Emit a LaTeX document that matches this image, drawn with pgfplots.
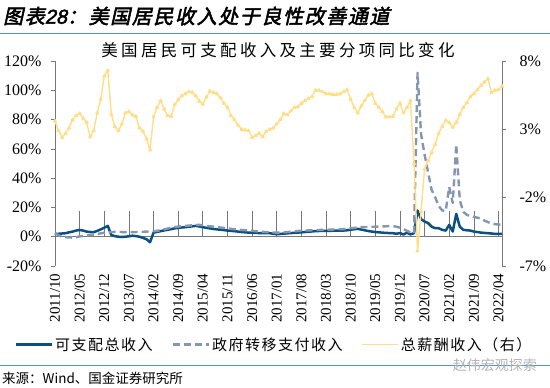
\documentclass[border=0pt]{standalone}
\usepackage{fontspec}
\setmainfont{Liberation Serif}
\newfontfamily\cjk{Noto Sans CJK SC}
\newfontfamily\cjksp{Noto Sans CJK SC}[LetterSpace=10]
\newfontfamily\cjkti{Noto Sans CJK SC}[LetterSpace=20]
\newfontfamily\headfont{Noto Sans CJK SC}[FakeSlant=0.22,FakeBold=2.5,LetterSpace=8]
\newfontfamily\headnum{Liberation Sans}[FakeSlant=0.22,FakeBold=2.5]
\usepackage{pgfplots}
\usepackage{pgfplotstable}
\pgfplotsset{compat=1.18}
\definecolor{cblue}{RGB}{12,80,130}
\definecolor{cgray}{RGB}{132,151,176}
\definecolor{cyel}{RGB}{255,222,135}
\definecolor{hdrblue}{RGB}{80,150,210}
\definecolor{axiscol}{RGB}{120,120,120}

\pgfplotstableread{
i blue gray yel
0 1.9 2.4 3.6
1 2.0 1.0 2.9
2 2.2 0.0 2.4
3 2.4 -0.3 2.7
4 3.0 -0.5 3.1
5 3.5 -0.6 3.7
6 4.2 -0.3 4.0
7 4.6 0.2 4.15
8 4.2 0.5 3.8
9 3.5 0.8 3.5
10 3.2 1.1 2.45
11 3.1 1.5 2.9
12 4.0 1.9 4.2
13 5.0 2.3 5.2
14 6.2 2.8 6.9
15 7.4 3.0 7.3
16 1.2 3.2 4.1
17 0.4 3.3 3.2
18 0.0 3.3 2.9
19 -0.2 3.2 3.4
20 0.0 3.1 4.2
21 0.3 3.1 4.3
22 0.7 3.1 4.05
23 0.4 3.2 3.95
24 0.0 3.3 3.1
25 -0.8 3.4 2.85
26 -1.7 3.5 2.3
27 -3.8 3.6 1.5
28 2.8 3.8 3.9
29 3.3 4.0 4.6
30 3.8 4.5 5.1
31 4.3 5.0 4.5
32 4.7 5.6 4.0
33 5.2 6.2 3.95
34 5.7 6.6 4.8
35 6.0 6.9 5.15
36 6.3 7.2 5.45
37 6.5 7.4 5.6
38 6.8 7.6 5.75
39 7.1 7.8 5.7
40 7.4 8.0 5.45
41 7.0 8.1 5.05
42 6.5 7.8 4.85
43 6.1 7.4 5.35
44 5.7 7.1 5.8
45 5.3 6.9 5.7
46 5.0 6.6 5.6
47 4.8 6.3 5.3
48 4.5 6.0 4.9
49 4.2 5.7 4.6
50 4.0 5.4 4.0
51 3.8 5.1 3.7
52 3.5 4.8 3.3
53 3.2 4.6 3.0
54 3.0 4.4 2.95
55 2.8 4.2 2.9
56 2.7 4.0 2.4
57 2.6 3.8 2.55
58 2.5 3.5 2.7
59 2.4 3.3 2.45
60 2.4 3.2 2.85
61 2.4 3.0 3.0
62 2.0 2.9 3.1
63 1.7 2.8 3.4
64 1.9 2.8 3.7
65 2.1 3.0 4.15
66 2.3 3.2 4.05
67 2.5 3.4 4.35
68 2.6 3.7 4.6
69 2.8 3.9 4.65
70 3.0 4.1 4.9
71 3.2 4.2 5.1
72 3.4 4.3 5.25
73 3.6 4.4 5.4
74 3.8 4.5 5.85
75 3.9 4.6 5.85
76 4.0 4.7 5.75
77 4.0 4.7 5.6
78 4.0 4.8 5.6
79 4.1 4.9 5.55
80 4.1 5.0 5.55
81 4.2 5.1 5.6
82 4.2 5.2 5.75
83 4.4 5.5 5.9
84 4.8 5.8 5.2
85 5.1 6.0 4.6
86 5.4 6.3 4.2
87 4.9 6.5 4.7
88 4.4 6.6 5.1
89 3.9 6.7 5.5
90 3.5 6.8 5.6
91 3.2 6.8 4.9
92 3.0 6.9 4.6
93 2.8 7.0 4.3
94 2.6 7.1 3.9
95 2.5 7.3 3.9
96 2.4 7.3 3.95
97 2.0 6.8 4.5
98 2.5 6.2 4.9
99 1.5 5.2 4.2
100 2.8 4.0 4.6
101 1.6 3.0 5.1
102 2.4 2.4 0.5
103 17.9 112 -5.9
104 12.0 70 -3.0
105 10.4 56 0.1
106 9.3 44 0.7
107 6.9 32 1.3
108 5.8 27 1.9
109 5.8 21 2.7
110 4.7 18 3.2
111 4.2 17.5 3.65
112 8.1 34 3.5
113 3.5 23 3.15
114 15.6 63 3.5
115 6.9 25 4.1
116 4.7 17 4.6
117 4.4 15 4.95
118 4.2 14 5.4
119 3.5 13.5 5.6
120 3.2 13 5.9
121 2.8 12.5 6.2
122 2.6 11 6.45
123 2.4 10 6.7
124 2.2 9 5.7
125 1.9 8.6 5.85
126 1.9 8.3 5.9
127 1.9 8.1 6.15
}\data

\begin{document}
\begin{tikzpicture}[x=1bp,y=1bp]
\useasboundingbox (0,0) rectangle (550,387);
% header
\node[anchor=west, inner sep=0pt] at (3,371) {\fontsize{20bp}{20bp}\selectfont\headfont 图表\headnum 28\headfont ：美国居民收入处于良性改善通道};
\draw[hdrblue, line width=1bp] (0,353.5) -- (550,353.5);
% chart title
\node[inner sep=0pt] at (278,337) {\fontsize{16.5bp}{16.5bp}\selectfont\cjkti 美国居民可支配收入及主要分项同比变化};

\begin{axis}[
  at={(55bp,121bp)}, anchor=south west,
  width=447bp, height=205bp, scale only axis,
  xmin=0, xmax=127, ymin=-20, ymax=120,
  axis y line*=left, axis x line*=bottom,
  x axis line style={draw=none},
  y axis line style={draw=axiscol, line width=0.7bp},
  xtick={0,7,...,126},
  xticklabels={2011/10,2012/05,2012/12,2013/07,2014/02,2014/09,2015/04,2015/11,2016/06,2017/01,2017/08,2018/03,2018/10,2019/05,2019/12,2020/07,2021/02,2021/09,2022/04},
  x tick label style={rotate=90, anchor=east, font=\fontsize{15bp}{15bp}\selectfont},
  xtick style={draw=none},
  ytick={-20,0,20,40,60,80,100,120},
  yticklabels={-20\%,0\%,20\%,40\%,60\%,80\%,100\%,120\%},
  y tick label style={font=\fontsize{16bp}{16bp}\selectfont, anchor=east},
  yticklabel shift=6bp,
  tick align=outside, major tick length=4bp,
  ytick style={draw=axiscol, line width=0.7bp},
  clip=false,
  legend columns=3,
  legend style={at={(0.49,-0.383)}, anchor=center, draw=none, fill=none,
    font=\fontsize{15bp}{15bp}\selectfont\cjksp,
    /tikz/every even column/.append style={column sep=17bp}},
  legend image code/.code={\draw[mark repeat=2, mark phase=2, #1] (0bp,0bp) -- (18bp,0bp) -- (36bp,0bp);},
]
\draw[axiscol, line width=0.7bp] (axis cs:0,0) -- (axis cs:127,0);
\pgfplotsinvokeforeach{7,14,21,28,35,42,49,56,63,70,77,84,91,98,105,112,119,126}{
  \draw[axiscol, line width=0.7bp] (axis cs:#1,0) -- ++(0,-4bp);
}
\addplot[cblue, line width=2.5bp, line join=round] table[x=i, y=blue]{\data};
\addlegendentry{可支配总收入}
\addplot[cgray, line width=2.4bp, dash pattern=on 7bp off 4bp, line join=round] table[x=i, y=gray]{\data};
\addlegendentry{政府转移支付收入}
\addlegendimage{cyel, line width=1.3bp, mark=triangle*, mark size=1.6bp, mark options={fill=cyel, draw=cyel, solid}}
\addlegendentry{总薪酬收入（右）}
\end{axis}

\begin{axis}[
  at={(55bp,121bp)}, anchor=south west,
  width=447bp, height=205bp, scale only axis,
  xmin=0, xmax=127, ymin=-7, ymax=8,
  axis y line*=right, axis x line=none,
  y axis line style={draw=axiscol, line width=0.7bp},
  ytick={-7,-2,3,8},
  yticklabels={-7\%,-2\%,3\%,8\%},
  y tick label style={font=\fontsize{16bp}{16bp}\selectfont, anchor=west},
  yticklabel shift=10bp,
  tick align=outside, major tick length=4bp,
  ytick style={draw=axiscol, line width=0.7bp},
  clip=false,
]
\addplot[cyel, line width=1.4bp, line join=round, mark=triangle*, mark size=1.5bp, mark options={fill=cyel, draw=cyel}] table[x=i, y=yel]{\data};
\end{axis}

% bottom rule, source and watermark
\draw[hdrblue, line width=1bp] (0,22) -- (550,22);
\node[anchor=west, inner sep=0pt] at (2,9) {\fontsize{13.5bp}{13.5bp}\selectfont\cjk 来源：Wind、国金证券研究所};
\node[anchor=east, inner sep=0pt, text=black!30] at (537,22) {\fontsize{14bp}{14bp}\selectfont\cjk 赵伟宏观探索};
\end{tikzpicture}
\end{document}
